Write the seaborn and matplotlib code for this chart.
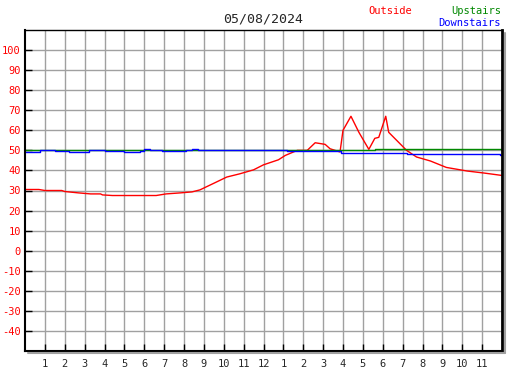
import matplotlib
matplotlib.use("Agg")
import matplotlib.pyplot as plt
from matplotlib.lines import Line2D
import pandas as pd
import seaborn as sns

# data (hour of day, temperature)
date_label = "05/08/2024"

outside_hours = [0, 0.7, 1, 1.85, 2, 2.7, 3.3, 3.8, 3.9, 4.4, 5, 6, 6.6, 7.1, 7.8,
                 8.4, 8.8, 9.5, 10.15, 10.8, 11.5, 12, 12.75, 13.1, 13.7, 14.2,
                 14.6, 15.1, 15.35, 15.85, 16.0, 16.4, 16.8, 17.3, 17.6, 17.8,
                 18.15, 18.3, 18.7, 19.2, 19.7, 20.4, 21.2, 22.25, 23.1, 24.0]
outside_temp = [30.5, 30.5, 30, 30, 29.5, 28.8, 28.3, 28.3, 27.8, 27.5, 27.5, 27.5,
                27.5, 28.3, 28.8, 29.3, 30.3, 33.6, 36.7, 38.3, 40.3, 42.8, 45.3,
                47.5, 50, 50, 53.8, 53, 50.8, 49.2, 60, 67, 59, 50.5, 56, 56.5,
                67, 59, 55, 50, 46.7, 44.7, 41.5, 39.7, 38.7, 37.5]

upstairs_hours = [0, 2, 4, 6, 8, 10, 12, 14, 16, 17.5, 17.6, 19, 20, 22, 23.5, 24]
upstairs_temp = [50, 50, 50, 50, 50, 50, 50, 50, 50, 50, 50.6, 50.8, 50.6, 50.6, 50.6, 50.5]

downstairs_hours = [0, 0.75, 1.5, 2.2, 3.2, 4.0, 5.0, 5.8, 6.0, 6.3, 6.9, 8.1, 8.4,
                    8.7, 13.2, 15.9, 19.2, 23.9, 24]
downstairs_temp = [49, 50, 49.5, 49, 50, 49.5, 49, 49.5, 50.5, 50, 49.5, 50, 50.5,
                   50, 49.5, 48.8, 48, 47.5, 47.5]

hour_ticks = list(range(1, 24))
hour_labels = [str(h) for h in range(1, 13)] + [str(h) for h in range(1, 12)]
temp_ticks = list(range(-40, 101, 10))

sns.set_style("white")
plt.rcParams["font.family"] = ["DejaVu Sans Mono"]

W, H = 527, 370
fig = plt.figure(figsize=(W / 100, H / 100), dpi=100)
L, R, T, B = 25, 502, 30, 351
ax = fig.add_axes([L / W, 1 - B / H, (R - L) / W, (B - T) / H])

sns.lineplot(x=outside_hours, y=outside_temp, color="red", lw=1, ax=ax)
sns.lineplot(x=upstairs_hours, y=upstairs_temp, color="#008800", lw=1, ax=ax,
             drawstyle="steps-post")
sns.lineplot(x=downstairs_hours, y=downstairs_temp, color="blue", lw=1, ax=ax,
             drawstyle="steps-post")

ax.set_xlim(0, 24)
ax.set_ylim(-50, 110)
ax.set_xticks(hour_ticks)
ax.set_xticklabels(hour_labels, fontsize=7.5)
ax.set_yticks(temp_ticks)
ax.set_yticklabels([str(t) for t in temp_ticks], fontsize=7.5, color="red")
ax.grid(True, color="#a0a0a0", lw=1)
ax.set_axisbelow(True)
ax.tick_params(axis="both", direction="in", length=5, width=1, color="black",
               left=True, bottom=True, pad=3)
ax.tick_params(axis="x", pad=6)
for s in ax.spines.values():
    s.set_color("black")
    s.set_linewidth(1)
ax.spines["left"].set_linewidth(1.5)
ax.spines["bottom"].set_linewidth(1.5)
ax.spines["right"].set_linewidth(2)

# drop shadow along bottom and right edges
fig.add_artist(Line2D([(L + 3) / W, (R + 3) / W], [1 - (B + 2) / H, 1 - (B + 2) / H],
                      color="#a0a0a0", lw=1.5, transform=fig.transFigure))
fig.add_artist(Line2D([(R + 2.5) / W, (R + 2.5) / W], [1 - (T + 3) / H, 1 - (B + 2) / H],
                      color="#a0a0a0", lw=1.5, transform=fig.transFigure))

fig.text(263 / W, 1 - 19 / H, date_label, ha="center", va="center", fontsize=9.5)
fig.text(390 / W, 1 - 11 / H, "Outside", ha="center", va="center", fontsize=7.5, color="red")
fig.text(501 / W, 1 - 11 / H, "Upstairs", ha="right", va="center", fontsize=7.5, color="#008800")
fig.text(501 / W, 1 - 23 / H, "Downstairs", ha="right", va="center", fontsize=7.5, color="blue")

fig.savefig("out.png", dpi=100)
